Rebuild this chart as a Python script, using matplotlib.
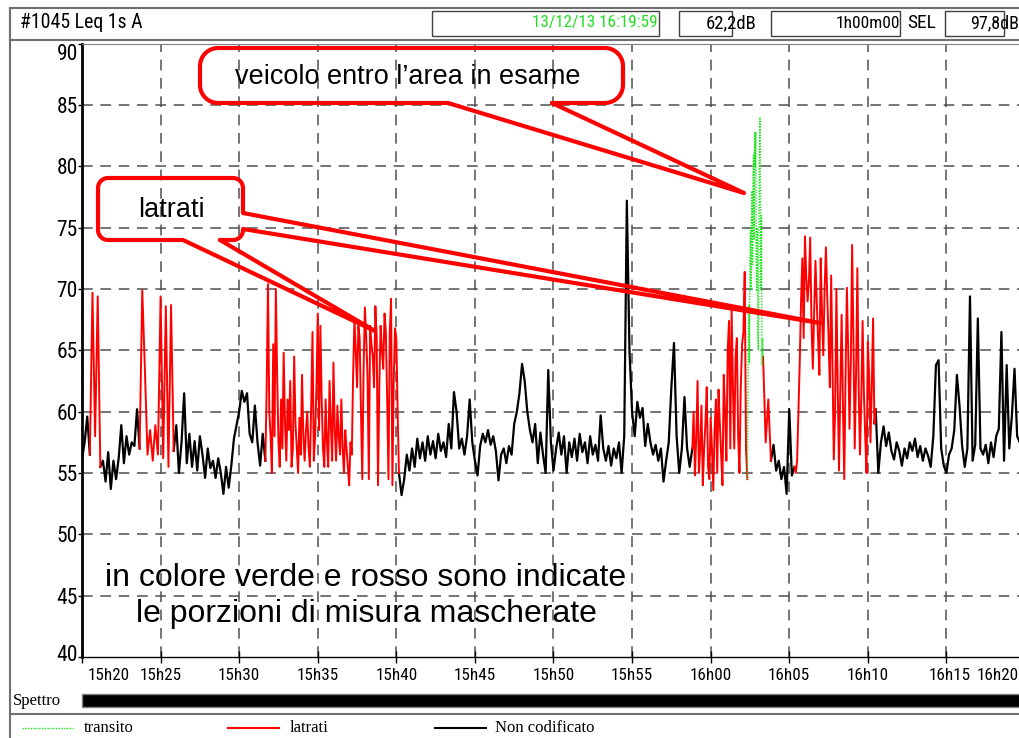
import numpy as np
import matplotlib
matplotlib.use("Agg")
import matplotlib.pyplot as plt
from matplotlib import font_manager as fm
from matplotlib.path import Path
from matplotlib.patches import PathPatch, Rectangle
import matplotlib.transforms as mtransforms

# ---------------- data (Leq 1s A, dB) ----------------
STEP_S = 10          # sampling step of the black series and short red parts (s)
FINE_S = 5           # sampling step of the dense red parts (s)
TR_STEP_S = 2        # sampling step of the green series (s)

nc_a = [56.1, 57.5, 59.6, 56.5]
nc_b = [55.5, 56, 54.3, 56.7, 53.7, 56, 54.5, 56.2, 58.9, 55.8, 58, 56.5, 57.5, 57.2, 60.2, 57]
nc_c = [56.8, 58.9, 55, 57.5, 61.5, 55.8, 58.2, 55.5, 57.6, 55.2, 58, 56.5, 54.6, 57, 55.4, 56,
        54.6, 56.2, 55, 53.3, 55.5, 53.8, 55.6, 57.8, 58.9, 60, 61.7, 60.8, 61.5, 58.2, 57.5, 60.5,
        57.5, 55.6, 58.2, 56]
nc_d = [55, 53.2, 54.5, 56.5, 55.2, 57, 55.5, 57.8, 56.2, 57.5, 56, 58, 56.5, 57.6, 56.2, 58.2,
        56.8, 57.5, 56.3, 59, 57, 61.6, 60, 57, 57.8, 56.5, 58, 61, 57.5, 56, 54.8, 57.2,
        58.2, 57.5, 58.5, 57.3, 58, 56.8, 54.4, 56.5, 57, 55.8, 57.2, 56.5, 59, 60, 61.5, 63.9,
        62.5, 60, 58.5, 57.5, 59, 55.8, 58.3, 56.5, 55, 63.4, 57.5, 55.2, 57, 58.3, 56.5, 58,
        55, 57.5, 56.3, 57.8, 56, 58.2, 56.7, 57.5, 55.8, 58, 56.5, 57.3, 56, 59.7, 57, 56,
        57.2, 55.6, 57, 56.2, 57.5, 55, 58, 77.2, 65, 60, 58, 60.8, 59.5, 60.3, 57.2, 59,
        57.5, 56.5, 57.3, 56, 57, 54.3, 56, 57.5, 62, 65.6, 58, 55, 57, 61.2, 57, 55.5, 57]
nc_e = [56, 57.3, 55.2, 56, 54.5, 55.5, 53.3, 60.2, 54.8, 55.5]
nc_f = [60.2, 55, 57.5, 58.8, 57.2, 58.3, 56.8, 56.1, 57.5, 56.8, 55.6, 57, 56.2, 57.5, 56.8, 57.8,
        56.3, 57.2, 56, 57, 56.4, 55.5, 58, 63.8, 64.2, 57, 55.6, 55, 56.5, 57, 58.5, 63,
        60.5, 57.2, 55.5, 57, 69.4, 56, 57.3, 67.6, 57, 56.5, 57.3, 55.8, 57.5, 56.3, 58, 58.6,
        66.5, 56, 63.8, 57, 59.7, 63.5, 58, 57.5, 58.5, 57.5]

lat_a = [56.5, 69.7, 58, 69.4, 55.5]
lat_b = [57, 69.9, 63.5, 56.5, 58.5, 56, 58.9, 56.5, 69.4, 56.2, 68.6, 55.5, 68.7, 56.8]
lat_c = [56, 62, 70.4, 60, 58, 55, 65.5, 58, 70, 63, 57.5, 55.5, 61, 57, 64.8, 59,
         56, 61, 58.5, 62.5, 55.5, 57, 64.5, 59, 57, 55, 59.5, 56.5, 63, 58, 56, 58.5,
         60, 57, 55.5, 60.5, 66.5, 56, 58, 62, 68, 58.5, 67, 61, 57, 55.5, 61, 57.5,
         55.5, 62.5, 59, 56, 64, 58.5, 56, 60.5, 58, 56.5, 61, 57, 55, 58.5, 57, 55.5,
         54, 57.5, 56.5, 63, 67.5, 65, 62, 67, 66, 60, 54.5, 63.5, 68.5, 66, 63, 54.5,
         67, 65.5, 64.5, 62, 68.6, 66, 54, 62, 67, 65, 63.5, 68, 66.5, 61, 54.5, 66.5,
         69.2, 54, 62.5, 66.8, 66, 60, 55]
lat_d = [57, 60, 54.8, 58, 62.5, 55, 57, 60.5, 54, 57, 59, 62, 55.5, 54.5, 59.5, 57,
         53.6, 58.5, 61, 55, 61.8, 59, 56.5, 54, 63, 60, 56, 65, 67.4, 57, 68.3, 62,
         57, 64.5, 66, 58, 55, 62, 65.5, 66.5, 71.4, 57, 54.5]
lat_e = [64.5, 57.5, 61, 56]
lat_f = [55.5, 55, 56, 60, 64, 69, 72.5, 66, 74.3, 71, 69, 70.5, 74.2, 67, 63.5, 68,
         72.3, 69, 66, 63, 72.5, 68, 64.6, 70, 73.4, 69.5, 66, 62, 71.1, 64, 56.1, 60,
         70, 62, 55.2, 62, 67.9, 60.5, 54.5, 63, 70.1, 65, 58.6, 64, 73.6, 66, 57, 63,
         71.7, 62, 56.5, 61, 67.4, 61.5, 58, 55, 65.7, 63, 57.5, 62, 67.6, 59, 60.2]

tr_a = [54.5, 60, 66, 68.7, 64, 72, 74.8, 70, 76, 78, 72, 79.5, 81, 74, 82.8, 80,
        82.8, 72, 69.8, 75, 66, 65, 73, 80, 84, 78, 70, 76, 63.8, 66, 64.5]

# segments: (start time in s after 15h20, step in s, values)
nc_segments = [(0, STEP_S, nc_a), (70, STEP_S, nc_b), (350, STEP_S, nc_c),
               (1210, STEP_S, nc_d), (2630, STEP_S, nc_e), (3030, STEP_S, nc_f)]
lat_segments = [(30, STEP_S, lat_a), (220, STEP_S, lat_b), (700, FINE_S, lat_c),
                (2330, FINE_S, lat_d), (2600, STEP_S, lat_e), (2720, FINE_S, lat_f)]
tr_segments = [(2540, TR_STEP_S, tr_a)]

x_tick_s = list(range(0, 3601, 300))
x_tick_labels = ["15h20", "15h25", "15h30", "15h35", "15h40", "15h45", "15h50",
                 "15h55", "16h00", "16h05", "16h10", "16h15", "16h20"]
y_ticks = [40, 45, 50, 55, 60, 65, 70, 75, 80, 85, 90]

# ---------------- fonts ----------------
SANS = "Liberation Sans"
SERIF = "Liberation Serif"
plt.rcParams["font.family"] = [SANS, "DejaVu Sans"]

narrow_file = None
pref = ["Liberation Sans Narrow", "DejaVu Sans Condensed", "Roboto Condensed",
        "Open Sans Condensed", "Noto Sans Condensed", "DejaVu Sans"]
for want in pref:
    for f in fm.fontManager.ttflist:
        cond = ("Narrow" in f.name or "Condensed" in f.name
                or str(f.stretch) in ("condensed", "semi-condensed", "extra-condensed"))
        if f.name == want and cond and f.style == "normal" and f.weight in (400, "normal", "regular"):
            narrow_file = f.fname
            break
    if narrow_file:
        break

if narrow_file:
    def NF(size):
        return fm.FontProperties(fname=narrow_file, size=size)
else:
    def NF(size):
        return fm.FontProperties(family=SANS, size=size * 0.82)

W, H = 1019, 738
fig = plt.figure(figsize=(W / 100, H / 100), dpi=100)

def fx(px):
    return px / W

def fy(py):
    return 1 - py / H

ax_l, ax_r, ax_t, ax_b = 82, 1025, 43.7, 657
ax = fig.add_axes([fx(ax_l), fy(ax_b), (ax_r - ax_l) / W, (ax_b - ax_t) / H])
ax.set_zorder(1)

def draw_segments(segs, **kw):
    for t0, step, vals in segs:
        t = t0 + step * np.arange(len(vals))
        ax.plot(t, vals, **kw)

draw_segments(nc_segments, color="black", lw=1.6, zorder=3)
draw_segments(lat_segments, color="#ff0000", lw=1.4, zorder=3)
draw_segments(tr_segments, color="#19e619", lw=1.0, ls=(0, (1, 1)), zorder=3)

ax.set_xlim(0, 3600)
ax.set_ylim(40, 90)

grid_kw = dict(color="#505050", lw=1.1, ls=(0, (7, 5)), zorder=1)
for yv in y_ticks[1:-1]:
    ax.axhline(yv, **grid_kw)
for xv in x_tick_s[1:-1]:
    ax.axvline(xv, **grid_kw)

ax.set_xticks(x_tick_s)
ax.set_xticklabels(x_tick_labels)
ax.set_yticks(y_ticks)
ax.set_yticklabels([str(v) for v in y_ticks])
for lab in ax.get_xticklabels():
    lab.set_fontproperties(NF(12.3))
for lab in ax.get_yticklabels():
    lab.set_fontproperties(NF(15.5))
ax.tick_params(axis="x", direction="inout", length=8, width=1, pad=4)
ax.tick_params(axis="y", direction="out", length=3, width=1, pad=0)

def shift(artist, dx, dy):
    artist.set_transform(artist.get_transform() +
                         mtransforms.ScaledTranslation(dx / 100, dy / 100, fig.dpi_scale_trans))

xl = ax.get_xticklabels()
xl[0].set_ha("left")
shift(xl[0], 6, 0)
xl[-1].set_ha("right")
shift(xl[-1], -6, 0)
shift(xl[-2], 3, 0)
yl = ax.get_yticklabels()
yl[-1].set_va("top")
shift(yl[0], 0, 4)

ax.spines["left"].set_linewidth(2)
ax.spines["bottom"].set_linewidth(1)
ax.spines["top"].set_color("#808080")
ax.spines["right"].set_visible(False)

# ---------------- overlay (pixel coords) ----------------
ov = fig.add_axes([0, 0, 1, 1])
ov.set_zorder(5)
ov.set_xlim(0, W)
ov.set_ylim(H, 0)
ov.axis("off")

# frame + header
ov.plot([10, 10], [8, 738], color="#707070", lw=1.5)
ov.add_patch(Rectangle((10, 8), 1015, 32, fill=False, ec="#707070", lw=1.5))
for x0, x1 in [(432, 659), (679, 732), (771, 900), (945, 1004)]:
    ov.add_patch(Rectangle((x0, 10.5), x1 - x0, 25.5, fill=False, ec="#404040", lw=1))
ov.text(20, 23, "#1045 Leq 1s A", fontproperties=NF(14.3), va="center", ha="left")
ov.text(658, 23, "13/12/13 16:19:59", fontproperties=NF(12.3), va="center", ha="right", color="#1fe01f")
ov.text(706, 23, "62,2dB", fontproperties=NF(13.5), va="center", ha="left")
ov.text(900, 23, "1h00m00", fontproperties=NF(12.5), va="center", ha="right")
ov.text(907, 23, "SEL", fontproperties=NF(14), va="center", ha="left")
ov.text(1019, 23, "97,8dB", fontproperties=NF(13), va="center", ha="right")

# spectrum row
ov.text(13, 701, "Spettro", fontsize=12, family=SERIF, va="center", ha="left")
ov.add_patch(Rectangle((82, 694), 945, 13, fc="black", ec="#808080", lw=1))
ov.plot([10, 1019], [714, 714], color="#707070", lw=1.5)

# legend row
ov.plot([22, 73], [728, 728], color="#19e619", lw=1.0, ls=(0, (1, 1)))
ov.text(84, 728, "transito", fontsize=12, family=SERIF, va="center", ha="left")
ov.plot([228, 279], [728, 728], color="#ff0000", lw=1.5)
ov.text(290, 728, "latrati", fontsize=12, family=SERIF, va="center", ha="left")
ov.plot([435, 486], [728, 728], color="black", lw=1.5)
ov.text(495, 728, "Non codificato", fontsize=12, family=SERIF, va="center", ha="left")

# callouts
def arc(cx, cy, r, a0, a1, n=10):
    a = np.radians(np.linspace(a0, a1, n))
    return list(zip(cx + r * np.cos(a), cy + r * np.sin(a)))

def corners(x0, y0, x1, y1, r):
    br = arc(x1 - r, y1 - r, r, 90, 0)
    tr = arc(x1 - r, y0 + r, r, 0, -90)
    tl = arc(x0 + r, y0 + r, r, -90, -180)
    bl = arc(x0 + r, y1 - r, r, 180, 90)
    return br, tr, tl, bl

def draw_path(pts):
    ov.add_patch(PathPatch(Path(pts), fill=False, ec="#ff0000", lw=3.0,
                           joinstyle="round", capstyle="round"))

br, tr, tl, bl = corners(200, 48, 623, 103, 18)
draw_path([(552, 103)] + br + tr + tl + bl + [(448, 103), (744, 193), (552, 103)])
ov.text(408, 77, "veicolo entro l\u2019area in esame", fontsize=19.5, family=SANS, va="center", ha="center")

br, tr, tl, bl = corners(98, 178, 243, 240, 10)
draw_path([(220, 240)] + br + [(243, 229), (820, 323), (243, 213)] + tr + tl + bl
          + [(183, 240), (375, 331), (220, 240)])
ov.text(171, 210, "latrati", fontsize=19.5, family=SANS, va="center", ha="center")

ov.text(366, 578, "in colore verde e rosso sono indicate", fontsize=23, family=SANS, va="center", ha="center")
ov.text(366, 614, "le porzioni di misura mascherate", fontsize=23, family=SANS, va="center", ha="center")

fig.savefig("out.png", dpi=100)
